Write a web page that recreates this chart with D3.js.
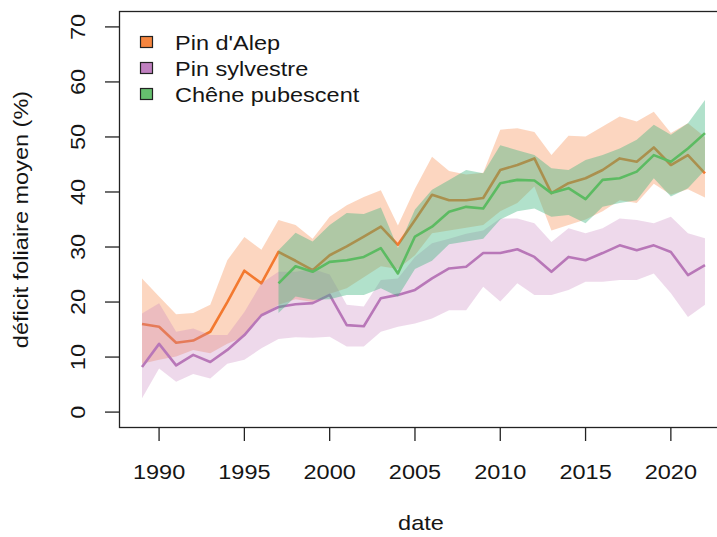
<!DOCTYPE html>
<html><head><meta charset="utf-8">
<script src="https://cdn.jsdelivr.net/npm/d3@7"></script>
<style>body{margin:0;background:#fff}svg{display:block}text{font-family:"Liberation Sans",Arial,sans-serif;fill:#151515}</style>
</head><body><svg id="c" width="717" height="537"></svg>
<script>
const years = d3.range(1989, 2023);
const yearsChene = d3.range(1997, 2023);
const alepMean = [16.0,15.5,12.6,13.0,14.6,20.0,25.7,23.4,29.1,27.5,25.8,28.5,30.1,31.9,33.7,30.4,34.9,39.5,38.5,38.5,38.9,44.0,44.9,46.1,39.8,41.6,42.5,44.0,46.1,45.5,48.1,44.9,46.7,43.4];
const alepUpper = [24.3,21.0,17.8,18.0,19.5,27.6,31.8,29.5,34.9,34.0,31.5,35.5,37.6,39.1,40.3,33.9,40.6,46.4,43.8,43.2,43.5,51.3,51.6,50.9,46.7,50.2,50.1,51.9,53.7,52.8,54.6,50.7,52.5,50.0];
const alepLower = [8.8,9.5,10.1,11.3,10.7,12.4,13.7,17.5,19.5,20.5,20.0,21.5,22.5,24.5,26.5,26.0,28.5,32.5,33.0,33.5,34.0,36.5,38.0,41.0,33.0,34.0,35.0,36.5,38.5,38.0,41.5,39.5,40.5,39.0];
const sylvMean = [8.2,12.4,8.5,10.4,9.1,11.3,14.0,17.6,19.1,19.6,19.8,21.3,15.8,15.6,20.7,21.3,22.2,24.3,26.1,26.4,28.9,28.9,29.6,28.2,25.5,28.2,27.6,28.9,30.3,29.4,30.3,29.1,24.9,26.7];
const sylvUpper = [17.9,19.8,14.6,15.2,14.0,14.0,18.2,23.4,25.5,25.5,26.0,25.0,19.5,19.2,24.0,24.3,28.2,30.7,31.5,32.4,33.0,35.2,35.2,34.3,30.9,33.4,32.5,33.4,35.2,34.9,34.3,35.5,32.5,31.6];
const sylvLower = [2.5,7.9,5.5,6.9,6.1,8.8,9.5,11.6,13.3,13.6,13.5,13.7,11.9,11.9,14.6,15.5,16.1,17.0,18.5,18.5,22.8,20.1,23.4,21.3,21.3,22.2,23.7,23.7,24.0,24.0,25.2,21.6,17.3,19.5];
const cheneMean = [23.4,26.5,25.5,27.3,27.6,28.2,29.8,25.2,31.9,33.7,36.4,37.3,37.0,41.6,42.2,42.1,39.8,40.7,38.7,42.2,42.5,43.7,46.7,45.5,47.9,50.7];
const cheneUpper = [29.4,32.6,31.0,34.0,36.2,36.0,37.2,29.8,36.8,40.4,42.2,44.0,43.4,48.5,47.6,46.7,44.3,44.0,45.8,46.7,47.9,49.5,52.2,50.4,52.5,56.7];
const cheneLower = [18.0,21.0,20.4,20.5,21.3,21.3,22.5,21.0,26.0,27.5,30.5,31.0,31.5,35.0,36.5,37.0,35.5,35.8,34.3,37.3,38.0,38.5,42.5,39.2,40.7,44.0];
const seriesNames = ["Pin d'Alep","Pin sylvestre","Chêne pubescent"];
const xTicks = [1990,1995,2000,2005,2010,2015,2020];
const yTicks = [0,10,20,30,40,50,60,70];

const svg = d3.select("#c");
const x = d3.scaleLinear().domain([1987.68, 2023.32]).range([119.5, 727.5]);
const y = d3.scaleLinear().domain([-2.8, 72.8]).range([427.5, 11.5]);
const SX = 1.12;

const series = [
  {name: seriesNames[0], yrs: years, m: alepMean, u: alepUpper, l: alepLower, line: "#f3792f", fill: "rgba(248,140,80,0.36)"},
  {name: seriesNames[1], yrs: years, m: sylvMean, u: sylvUpper, l: sylvLower, line: "#b877b8", fill: "rgba(200,130,190,0.30)"},
  {name: seriesNames[2], yrs: yearsChene, m: cheneMean, u: cheneUpper, l: cheneLower, line: "#5cbb62", fill: "rgba(60,180,125,0.40)"}
];

const g = svg.append("g");
series.forEach(s => {
  const pts = s.yrs.map((yr, i) => ({yr, m: s.m[i], u: s.u[i], l: s.l[i]}));
  g.append("path").datum(pts)
    .attr("d", d3.area().x(d => x(d.yr)).y0(d => y(d.l)).y1(d => y(d.u)))
    .attr("fill", s.fill).attr("stroke", "none");
  g.append("path").datum(pts)
    .attr("d", d3.line().x(d => x(d.yr)).y(d => y(d.m)))
    .attr("fill", "none").attr("stroke", s.line).attr("stroke-width", 2.6)
    .attr("stroke-linejoin", "round");
});

// box
svg.append("rect").attr("x", 119.5).attr("y", 11.5).attr("width", 608).attr("height", 416)
  .attr("fill", "none").attr("stroke", "#222").attr("stroke-width", 1.3);

// x axis
const xa = svg.append("g");
xTicks.forEach(t => {
  xa.append("line").attr("x1", x(t)).attr("x2", x(t)).attr("y1", 427.5).attr("y2", 441).attr("stroke", "#222").attr("stroke-width", 1.3);
  xa.append("text").attr("transform", `translate(${x(t)},479) scale(${SX},1)`).attr("text-anchor", "middle").attr("font-size", 21).text(t);
});
// y axis
const ya = svg.append("g");
yTicks.forEach(t => {
  ya.append("line").attr("x1", 105).attr("x2", 119.5).attr("y1", y(t)).attr("y2", y(t)).attr("stroke", "#222").attr("stroke-width", 1.3);
  ya.append("text").attr("transform", `translate(85,${y(t)}) rotate(-90) scale(${SX},1)`).attr("text-anchor", "middle").attr("font-size", 21).text(t);
});
svg.append("text").attr("transform", `translate(421,530) scale(${SX},1)`).attr("text-anchor", "middle").attr("font-size", 21).text("date");
svg.append("text").attr("transform", `translate(28,${(11.5+427.5)/2}) rotate(-90) scale(${SX},1)`).attr("text-anchor", "middle").attr("font-size", 21).text("déficit foliaire moyen (%)");

// legend
const legCols = ["#f5853f", "#c080c0", "#66c06e"];
seriesNames.forEach((n, i) => {
  const cy = 42.5 + i * 26;
  svg.append("rect").attr("x", 140.5).attr("y", cy - 6).attr("width", 12).attr("height", 11)
    .attr("fill", legCols[i]).attr("stroke", "#222").attr("stroke-width", 1.2);
  svg.append("text").attr("transform", `translate(175,${cy + 7.5}) scale(${SX},1)`).attr("font-size", 21).text(n);
});
</script></body></html>
